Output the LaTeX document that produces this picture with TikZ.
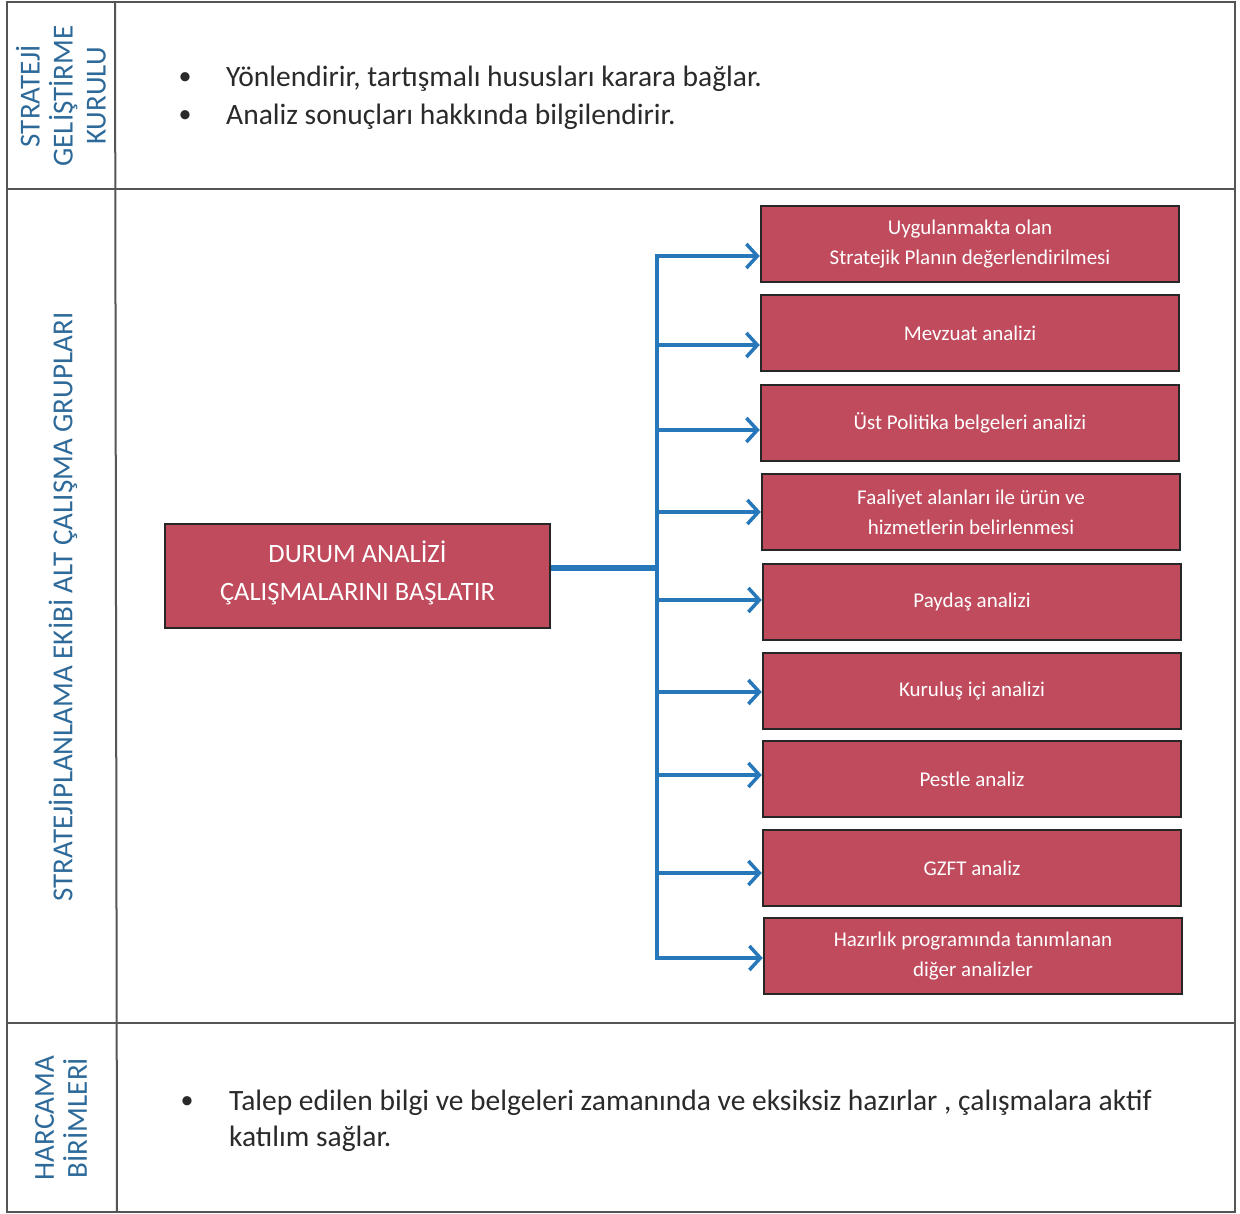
\documentclass[tikz,border=0pt]{standalone}
\usepackage{fontspec}
\setmainfont{Carlito}
\usetikzlibrary{arrows.meta}
\definecolor{boxred}{HTML}{C04B5D}
\definecolor{lblue}{HTML}{2D6A9A}
\definecolor{arrblue}{HTML}{2778BA}
\definecolor{frame}{HTML}{555555}
\definecolor{txt}{HTML}{2A2A2A}
\tikzset{
  rbox/.style={draw=black!85, line width=2.5pt, fill=boxred, minimum width=418pt, minimum height=76pt, inner sep=0pt, text=white, align=center, font=\fontsize{21}{30}\selectfont},
  mainbox/.style={draw=black!85, line width=2.5pt, fill=boxred, minimum width=385pt, minimum height=104pt, inner sep=0pt, text=white, align=center, font=\fontsize{26.5}{38}\selectfont},
  lab/.style={rotate=90, text=lblue, align=center, font=\fontsize{29}{33}\selectfont},
  bodytxt/.style={text=txt, anchor=west, inner sep=0pt, font=\fontsize{29.5}{36}\selectfont},
  bul/.style={text=txt, inner sep=0pt, font=\fontsize{26}{30}\selectfont},
  link/.style={draw=arrblue, line width=3.5pt},
  arr/.style={link, -{Straight Barb[length=11pt, width=24pt, line width=3.5pt]}},
  frm/.style={draw=frame, line width=2pt}
}
\begin{document}
\begin{tikzpicture}[x=1pt, y=-1pt]
\useasboundingbox (0,0) rectangle (1240,1214);
\fill[white] (0,0) rectangle (1240,1214);
% frame
\draw[frm] (7,2) rectangle (1235,1212);
\draw[frm] (115,2) -- (117,1212);
\draw[frm] (7,189) -- (1235,189);
\draw[frm] (7,1023) -- (1235,1023);
% labels
\node[lab] (l1) at (61,96) {STRATEJİ\\GELİŞTİRME\\KURULU};
\node[lab] (l2) at (63,607) {STRATEJİPLANLAMA EKİBİ ALT ÇALIŞMA GRUPLARI};
\node[lab] (l3) at (61,1118) {HARCAMA\\BİRİMLERİ};
% top bullets
\node[bul] (u1) at (185,79) {•};
\node[bodytxt] (t1) at (226,79) {Yönlendirir, tartışmalı hususları karara bağlar.};
\node[bul] (u2) at (185,117) {•};
\node[bodytxt] (t2) at (226,117) {Analiz sonuçları hakkında bilgilendirir.};
% bottom bullet
\node[bul] (u3) at (187,1103) {•};
\node[bodytxt, align=left, anchor=north west] (t3) at (229,1090) {Talep edilen bilgi ve belgeleri zamanında ve eksiksiz hazırlar , çalışmalara aktif\\katılım sağlar.};
% main box
\node[mainbox] (m) at (357.5,576) {DURUM ANALİZİ\\ÇALIŞMALARINI BAŞLATIR\rule[-10pt]{0pt}{10pt}};
% right boxes
\node[rbox] (b1) at (970,244) {Uygulanmakta olan\\Stratejik Planın değerlendirilmesi};
\node[rbox] (b2) at (970,333) {Mevzuat analizi};
\node[rbox] (b3) at (970,423) {Üst Politika belgeleri analizi};
\node[rbox] (b4) at (971,512) {Faaliyet alanları ile ürün ve\\hizmetlerin belirlenmesi};
\node[rbox] (b5) at (972,602) {Paydaş analizi};
\node[rbox] (b6) at (972,691) {Kuruluş içi analizi};
\node[rbox] (b7) at (972,779) {Pestle analiz};
\node[rbox] (b8) at (972,868) {GZFT analiz};
\node[rbox] (b9) at (973,956) {Hazırlık programında tanımlanan\\diğer analizler};
% connectors
\coordinate (j) at (657,568);
\draw[link, line width=5.5pt] (m.east |- j) -- (j);
\draw[link, line cap=rect] ([yshift=-12pt]j |- b1.west) -- ([yshift=-2pt]j |- b9.west);
\foreach \b/\d in {b1/-12,b2/-12,b3/-7,b4/0,b5/2,b6/-1,b7/4,b8/-5,b9/-2}{
  \draw[arr] ([yshift=\d pt]j |- \b.west) -- ([yshift=\d pt]\b.west);
}
\end{tikzpicture}
\end{document}
